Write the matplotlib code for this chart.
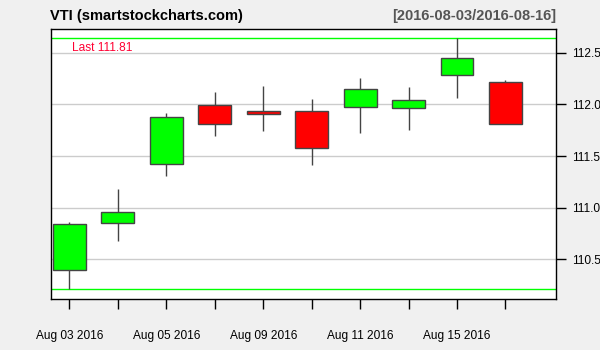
import matplotlib
matplotlib.use("Agg")
import matplotlib.pyplot as plt
import numpy as np

plt.rcParams['font.family'] = ['Liberation Sans', 'DejaVu Sans']

dates = ["Aug 03 2016", "Aug 04 2016", "Aug 05 2016", "Aug 08 2016", "Aug 09 2016",
         "Aug 10 2016", "Aug 11 2016", "Aug 12 2016", "Aug 15 2016", "Aug 16 2016"]
opens = [110.39, 110.85, 111.42, 111.99, 111.935, 111.935, 111.98, 111.97, 112.29, 112.22]
closes = [110.84, 110.96, 111.88, 111.81, 111.912, 111.58, 112.15, 112.04, 112.45, 111.81]
highs = [110.86, 111.18, 111.92, 112.12, 112.18, 112.05, 112.26, 112.17, 112.64, 112.24]
lows = [110.21, 110.68, 111.31, 111.69, 111.74, 111.41, 111.72, 111.75, 112.06, 111.81]
yticks = [110.5, 111.0, 111.5, 112.0, 112.5]
last_value = 111.81

fig = plt.figure(figsize=(6, 3.5), dpi=100, facecolor='#F0F0F0')
ax = fig.add_axes([50.5/600, 1-299.3/350, (556.3-50.5)/600, (299.3-28.7)/350])
ax.set_facecolor('white')

x = np.arange(len(dates))
ax.set_xlim(-0.39, 10.05)
ax.set_ylim(110.11, 112.735)

for yt in yticks:
    ax.axhline(yt, color='#CCCCCC', lw=1, zorder=0)
ax.axhline(max(highs), color='#00FF00', lw=1, zorder=1)
ax.axhline(min(lows), color='#00FF00', lw=1, zorder=1)

for i in range(len(dates)):
    ax.vlines(x[i], lows[i], highs[i], color='#444444', lw=1, zorder=2)
    up = closes[i] >= opens[i]
    col = '#00FF00' if up else '#FF0000'
    b = min(opens[i], closes[i])
    h = abs(closes[i] - opens[i])
    ax.bar(x[i], h, bottom=b, width=0.68, color=col, edgecolor='#444444', lw=1, zorder=3)

ax.text(0.043, 0.93, f"Last {last_value:.2f}", transform=ax.transAxes, color='#FF0033',
        fontsize=8.6, va='center', ha='left')

ax.yaxis.tick_right()
ax.set_yticks(yticks)
ax.set_yticklabels([f"{v:.1f}" for v in yticks])
ax.tick_params(axis='y', direction='out', length=7, width=1, labelsize=8.6, pad=4, colors='black')
ax.set_xticks(x)
ax.set_xticklabels([d if i % 2 == 0 and i < 9 else "" for i, d in enumerate(dates)])
ax.tick_params(axis='x', direction='out', length=7, width=1, labelsize=8.6, pad=15)
for s in ax.spines.values():
    s.set_color('black')
    s.set_linewidth(1)

fig.text(50.5/600, 1-16/350, "VTI (smartstockcharts.com)", fontsize=10.5, fontweight='bold',
         ha='left', va='center', color='black')
fig.text(556/600, 1-16/350, "[2016-08-03/2016-08-16]", fontsize=10.5, fontweight='bold',
         ha='right', va='center', color='#555555')

fig.savefig("out.png", dpi=100, facecolor=fig.get_facecolor())
